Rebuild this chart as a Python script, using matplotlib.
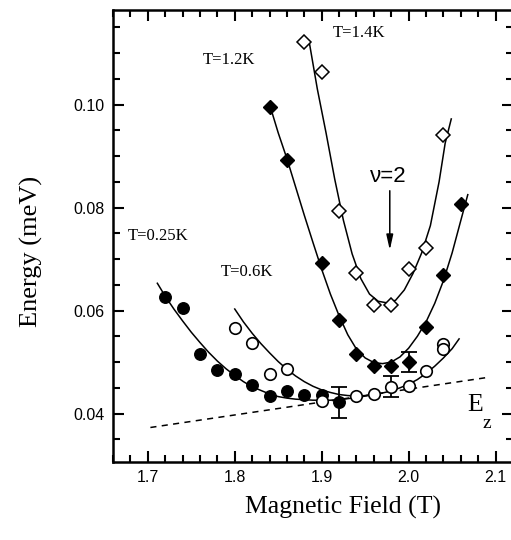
import matplotlib
matplotlib.use("Agg")
import matplotlib.pyplot as plt
import numpy as np

# ---- data ----
# T = 0.25 K (filled circles)
b_025 = [1.72, 1.74, 1.76, 1.78, 1.80, 1.82, 1.84, 1.86, 1.88, 1.90, 1.92]
e_025 = [0.0626, 0.0605, 0.0516, 0.0485, 0.0476, 0.0456, 0.0435, 0.0443, 0.0436, 0.0436, 0.0422]
err_025 = [0, 0, 0, 0, 0, 0, 0, 0, 0, 0, 0.003]

# T = 0.6 K (open circles)
b_06 = [1.80, 1.82, 1.84, 1.86, 1.90, 1.94, 1.96, 1.98, 2.00, 2.02, 2.04, 2.04]
e_06 = [0.0566, 0.0537, 0.0477, 0.0487, 0.0425, 0.0435, 0.0438, 0.0452, 0.0454, 0.0483, 0.0535, 0.0525]
err_06 = [0, 0, 0, 0, 0, 0, 0, 0.002, 0, 0, 0, 0]

# T = 1.2 K (filled diamonds)
b_12 = [1.84, 1.86, 1.90, 1.92, 1.94, 1.96, 1.98, 2.00, 2.02, 2.04, 2.06]
e_12 = [0.0995, 0.0893, 0.0692, 0.0582, 0.0515, 0.0493, 0.0493, 0.0500, 0.0569, 0.0670, 0.0807]
err_12 = [0, 0, 0, 0, 0, 0, 0, 0.002, 0, 0, 0]

# T = 1.4 K (open diamonds)
b_14 = [1.88, 1.90, 1.92, 1.94, 1.96, 1.98, 2.00, 2.02, 2.04]
e_14 = [0.1122, 0.1063, 0.0794, 0.0672, 0.0611, 0.0611, 0.0681, 0.0721, 0.0941]

# fitted curves
fit_b_025 = [1.711, 1.720, 1.730, 1.740, 1.750, 1.760, 1.770, 1.780, 1.790, 1.800,
             1.810, 1.820, 1.830, 1.840, 1.850, 1.860, 1.870, 1.880, 1.890, 1.900,
             1.910, 1.920, 1.930, 1.940, 1.950, 1.960]
fit_e_025 = [0.0653, 0.0628, 0.0603, 0.0580, 0.0558, 0.0538, 0.0519, 0.0502, 0.0487, 0.0474,
             0.0462, 0.0452, 0.0445, 0.0438, 0.0433, 0.0430, 0.0428, 0.0427, 0.0426, 0.0426,
             0.0426, 0.0427, 0.0429, 0.0431, 0.0434, 0.0437]

fit_b_06 = [1.800, 1.810, 1.820, 1.830, 1.840, 1.850, 1.860, 1.870, 1.880, 1.890,
            1.900, 1.910, 1.920, 1.930, 1.940, 1.950, 1.960, 1.970, 1.980, 1.990,
            2.000, 2.010, 2.020, 2.030, 2.040, 2.050, 2.058]
fit_e_06 = [0.0603, 0.0578, 0.0556, 0.0536, 0.0518, 0.0501, 0.0486, 0.0473, 0.0462, 0.0453,
            0.0446, 0.0441, 0.0437, 0.0435, 0.0434, 0.0435, 0.0437, 0.0440, 0.0444, 0.0450,
            0.0457, 0.0466, 0.0478, 0.0492, 0.0508, 0.0526, 0.0545]

fit_b_12 = [1.841, 1.850, 1.860, 1.870, 1.880, 1.890, 1.900, 1.910, 1.920, 1.930,
            1.940, 1.950, 1.960, 1.970, 1.980, 1.990, 2.000, 2.010, 2.020, 2.030,
            2.040, 2.050, 2.060, 2.068]
fit_e_12 = [0.0995, 0.0945, 0.0895, 0.0840, 0.0785, 0.0732, 0.0680, 0.0632, 0.0590, 0.0553,
            0.0525, 0.0508, 0.0499, 0.0497, 0.0500, 0.0510, 0.0527, 0.0550, 0.0578, 0.0614,
            0.0658, 0.0712, 0.0775, 0.0825]

fit_b_14 = [1.886, 1.895, 1.905, 1.915, 1.925, 1.935, 1.945, 1.955, 1.965, 1.975,
            1.985, 1.995, 2.005, 2.015, 2.025, 2.035, 2.042, 2.049]
fit_e_14 = [0.1118, 0.1030, 0.0945, 0.0855, 0.0775, 0.0710, 0.0662, 0.0632, 0.0618, 0.0615,
            0.0620, 0.0640, 0.0672, 0.0712, 0.0765, 0.0850, 0.0925, 0.0972]

# Zeeman energy line
ez_b = [1.703, 2.094]
ez_e = [0.0373, 0.0471]

x_ticks = [1.7, 1.8, 1.9, 2.0, 2.1]
x_tick_labels = ["1.7", "1.8", "1.9", "2.0", "2.1"]
y_ticks = [0.04, 0.06, 0.08, 0.10]
y_tick_labels = ["0.04", "0.06", "0.08", "0.10"]

serif = "Liberation Serif"
sans = "Liberation Sans"

W, H = 511, 540
fig = plt.figure(figsize=(W / 100, H / 100), dpi=100)
ax = fig.add_axes([113 / W, 78 / H, 400 / W, 452 / H])

lw = 1.1
for fb, fe in [(fit_b_025, fit_e_025), (fit_b_06, fit_e_06),
               (fit_b_12, fit_e_12), (fit_b_14, fit_e_14)]:
    ax.plot(fb, fe, color="black", lw=lw, solid_joinstyle="round")
ax.plot(ez_b, ez_e, color="black", lw=1.1, ls=(0, (4, 3.5)))


def with_err(b, e, err, **kw):
    ax.plot(b, e, ls="none", **kw)
    bb = [x for x, s in zip(b, err) if s > 0]
    ee = [y for y, s in zip(e, err) if s > 0]
    ss = [s for s in err if s > 0]
    if bb:
        ax.errorbar(bb, ee, yerr=ss, fmt="none", ecolor="black", elinewidth=1.3,
                    capsize=5.5, capthick=1.3, zorder=4)


with_err(b_025, e_025, err_025, marker="o", ms=8.3, mfc="black", mec="black", zorder=5)
with_err(b_06, e_06, err_06, marker="o", ms=8.3, mfc="white", mec="black", mew=1.2, zorder=5)
with_err(b_12, e_12, err_12, marker="D", ms=7.0, mfc="black", mec="black", zorder=5)
ax.plot(b_14, e_14, ls="none", marker="D", ms=7.0, mfc="white", mec="black", mew=1.1, zorder=5)

ax.set_xlim(1.661, 2.116)
ax.set_ylim(0.0306, 0.11835)

ax.set_xticks(x_ticks)
ax.set_xticklabels(x_tick_labels, fontfamily=sans, fontsize=11.5)
ax.set_yticks(y_ticks)
ax.set_yticklabels(y_tick_labels, fontfamily=sans, fontsize=11.5)
ax.set_xticks(np.arange(1.66, 2.12, 0.02), minor=True)
ax.set_yticks(np.arange(0.035, 0.118, 0.005), minor=True)
ax.tick_params(which="both", direction="in", top=True, right=True, width=1.5)
ax.tick_params(which="major", length=8, pad=6)
ax.tick_params(which="minor", length=5)
for s in ax.spines.values():
    s.set_linewidth(1.8)

fig.text(342.5 / W, 1 - 507 / H, "Magnetic Field (T)", fontfamily=serif, fontsize=18.5,
         ha="center", va="center")
fig.text(31 / W, 1 - 251 / H, "Energy (meV)", fontfamily=serif, fontsize=19,
         ha="center", va="center", rotation=90)

txt = dict(fontfamily=serif, fontsize=12, ha="left", va="center")
ax.text(1.913, 0.1139, "T=1.4K", **txt)
ax.text(1.763, 0.1086, "T=1.2K", **txt)
ax.text(1.6766, 0.0745, "T=0.25K", **txt)
ax.text(1.784, 0.0675, "T=0.6K", **txt)

ax.text(1.9554, 0.0861, "ν=2", fontfamily=sans, fontsize=16, ha="left", va="center")
ax.annotate("", xy=(1.9783, 0.0712), xytext=(1.9783, 0.0838),
            arrowprops=dict(arrowstyle="-|>,head_length=0.9,head_width=0.2",
                            color="black", lw=1.1))
ax.text(2.0674, 0.0417, "E", fontfamily=serif, fontsize=18.5, ha="left", va="center")
ax.text(2.0846, 0.0381, "z", fontfamily=serif, fontsize=14, ha="left", va="center")

fig.savefig("out.png", dpi=100)
